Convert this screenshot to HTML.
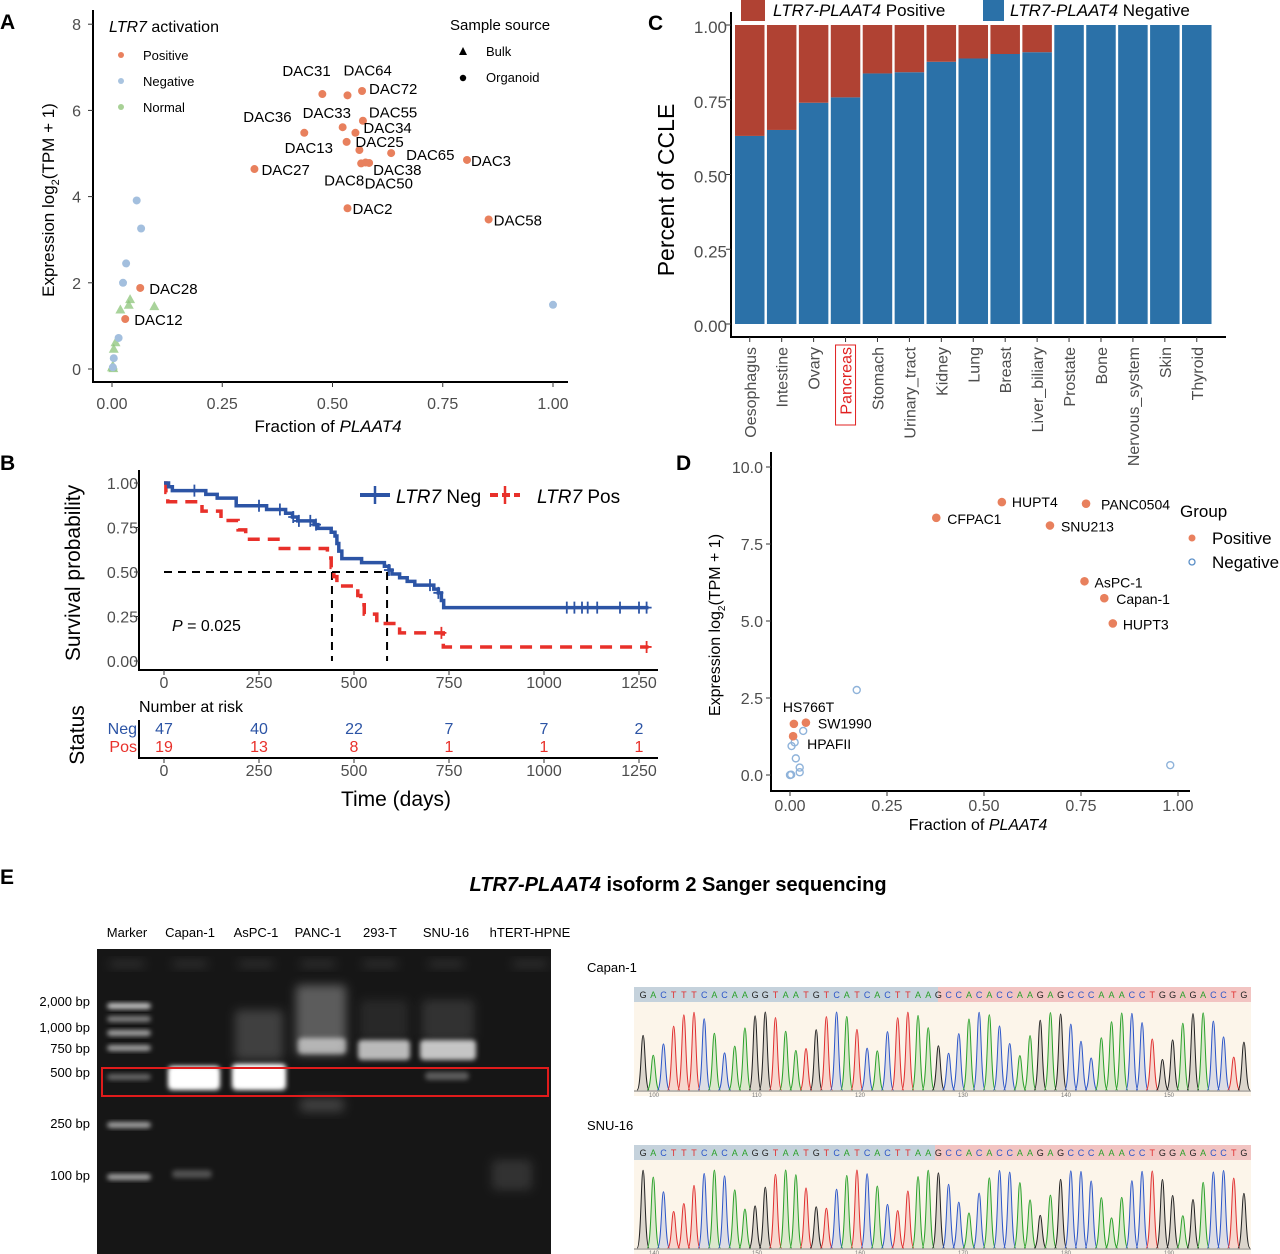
<!DOCTYPE html>
<html><head><meta charset="utf-8"><style>
html,body{margin:0;padding:0;background:#fff}
svg{display:block;font-family:"Liberation Sans",Arial,sans-serif}
.tk{fill:#4d4d4d;font-size:16px}
</style></head><body>
<svg id="fig" width="1280" height="1254" viewBox="0 0 1280 1254" xmlns="http://www.w3.org/2000/svg">
<defs>
<filter id="blur2" x="-50%" y="-50%" width="200%" height="200%"><feGaussianBlur stdDeviation="2.5"/></filter>
<filter id="blur4" x="-50%" y="-50%" width="200%" height="200%"><feGaussianBlur stdDeviation="5"/></filter>
</defs>
<text x="0" y="29" font-size="21" font-weight="bold">A</text>
<text x="0" y="470" font-size="21" font-weight="bold">B</text>
<text x="648" y="30" font-size="21" font-weight="bold">C</text>
<text x="676" y="470" font-size="21" font-weight="bold">D</text>
<text x="0" y="884" font-size="21" font-weight="bold">E</text>

<g id="pa">
<line x1="93" y1="10" x2="93" y2="383" stroke="#000" stroke-width="2"/>
<line x1="92" y1="382" x2="568" y2="382" stroke="#000" stroke-width="2"/>
<text transform="translate(54,200) rotate(-90)" text-anchor="middle" font-size="17">Expression log<tspan font-size="11" dy="5">2</tspan><tspan dy="-5">(TPM + 1)</tspan></text>
<text x="328" y="432" text-anchor="middle" font-size="17">Fraction of <tspan font-style="italic">PLAAT4</tspan></text>
<text x="109" y="32" font-size="16"><tspan font-style="italic">LTR7</tspan> activation</text>
<circle cx="121" cy="55" r="3" fill="#e9805e"/>
<text x="143" y="60" font-size="13">Positive</text>
<circle cx="121" cy="81" r="3" fill="#a9c4e0"/>
<text x="143" y="86" font-size="13">Negative</text>
<circle cx="121" cy="107" r="3" fill="#a8d196"/>
<text x="143" y="112" font-size="13">Normal</text>
<text x="450" y="30" font-size="15">Sample source</text>
<polygon points="463,47 467,55 459,55" fill="#000"/>
<text x="486" y="56" font-size="13">Bulk</text>
<circle cx="463" cy="78" r="3.2" fill="#000"/>
<text x="486" y="82" font-size="13">Organoid</text>
</g>

<g id="pb">
<line x1="139" y1="470" x2="139" y2="671" stroke="#000" stroke-width="2"/>
<line x1="138" y1="670" x2="658" y2="670" stroke="#000" stroke-width="2"/>
<text transform="translate(80,573) rotate(-90)" text-anchor="middle" font-size="21">Survival probability</text>
<text x="172" y="631" font-size="16"><tspan font-style="italic">P</tspan> = 0.025</text>
<text x="139" y="712" font-size="16">Number at risk</text>
<text x="137" y="734" text-anchor="end" font-size="16" fill="#2c54a5">Neg</text>
<text x="137" y="752" text-anchor="end" font-size="16" fill="#e8302a">Pos</text>
<line x1="139" y1="720" x2="139" y2="759" stroke="#000" stroke-width="2"/>
<line x1="138" y1="758" x2="658" y2="758" stroke="#000" stroke-width="2"/>
<text transform="translate(84,735) rotate(-90)" text-anchor="middle" font-size="21">Status</text>
<text x="396" y="806" text-anchor="middle" font-size="21">Time (days)</text>
<line x1="360" y1="495" x2="390" y2="495" stroke="#2c54a5" stroke-width="4"/>
<line x1="375" y1="486" x2="375" y2="504" stroke="#2c54a5" stroke-width="2.5"/>
<text x="396" y="503" font-size="19"><tspan font-style="italic">LTR7</tspan> Neg</text>
<line x1="490" y1="495" x2="520" y2="495" stroke="#e8302a" stroke-width="4" stroke-dasharray="8,4"/>
<line x1="505" y1="486" x2="505" y2="504" stroke="#e8302a" stroke-width="2.5"/>
<text x="537" y="503" font-size="19"><tspan font-style="italic">LTR7</tspan> Pos</text>
</g>

<g id="pc">
<rect x="741" y="0" width="24" height="21" fill="#b04233"/>
<text x="773" y="16" font-size="17"><tspan font-style="italic">LTR7-PLAAT4</tspan> Positive</text>
<rect x="983" y="0" width="21" height="21" fill="#2b71a8"/>
<text x="1010" y="16" font-size="17"><tspan font-style="italic">LTR7-PLAAT4</tspan> Negative</text>
<text transform="translate(674,190) rotate(-90)" text-anchor="middle" font-size="23">Percent of CCLE</text>
<line x1="731" y1="12" x2="731" y2="338" stroke="#000" stroke-width="2"/>
<line x1="730" y1="337" x2="1226" y2="337" stroke="#000" stroke-width="2"/>
</g>

<g id="pd">
<line x1="771" y1="452" x2="771" y2="792" stroke="#000" stroke-width="2"/>
<line x1="770" y1="791" x2="1190" y2="791" stroke="#000" stroke-width="2"/>
<text transform="translate(720,625) rotate(-90)" text-anchor="middle" font-size="16">Expression log<tspan font-size="10" dy="5">2</tspan><tspan dy="-5">(TPM + 1)</tspan></text>
<text x="978" y="830" text-anchor="middle" font-size="16">Fraction of <tspan font-style="italic">PLAAT4</tspan></text>
<text x="1180" y="517" font-size="17">Group</text>
<circle cx="1192" cy="538" r="3.5" fill="#e9805e"/>
<text x="1212" y="544" font-size="17">Positive</text>
<circle cx="1192" cy="562" r="3" fill="none" stroke="#5b8fc7" stroke-width="1.3"/>
<text x="1212" y="568" font-size="17">Negative</text>
</g>

<g id="pe">
<text x="678" y="891" text-anchor="middle" font-size="20" font-weight="bold"><tspan font-style="italic">LTR7-PLAAT4</tspan> isoform 2 Sanger sequencing</text>
<rect x="97" y="949" width="454" height="305" fill="#161616"/>
<text x="587" y="972" font-size="13">Capan-1</text>
<text x="587" y="1130" font-size="13">SNU-16</text>
</g>
</svg>
<script>
// ---------- DATA ----------
const aPosNames=["DAC31","DAC64","DAC72","DAC55","DAC33","DAC36","DAC34","DAC13","DAC25","DAC65","DAC3","DAC38","DAC8","DAC50","DAC27","DAC2","DAC58","DAC28","DAC12"];
const aPosFrac=[0.477,0.534,0.567,0.569,0.523,0.436,0.552,0.532,0.561,0.633,0.805,0.583,0.565,0.575,0.323,0.534,0.854,0.064,0.030];
const aPosExpr=[6.38,6.35,6.45,5.76,5.61,5.48,5.48,5.27,5.08,5.01,4.85,4.78,4.77,4.79,4.64,3.73,3.47,1.88,1.16];
const aNegFrac=[0.056,0.066,0.032,0.025,0.015,0.004,1.0,0.002];
const aNegExpr=[3.91,3.26,2.45,2.0,0.72,0.25,1.49,0.04];
const aNormFrac=[0.041,0.038,0.019,0.096,0.008,0.004,0.0,0.002,0.003];
const aNormExpr=[1.62,1.49,1.38,1.46,0.62,0.47,0.04,0.08,0.02];
const aXTicks=["0.00","0.25","0.50","0.75","1.00"];
const aYTicks=["0","2","4","6","8"];
const negT=[12,22,110,140,190,270,320,338,352,395,405,440,450,455,460,468,520,580,592,600,620,640,660,710,722,730,736];
const negS=[0.979,0.957,0.936,0.915,0.872,0.851,0.830,0.809,0.787,0.766,0.745,0.723,0.702,0.660,0.617,0.575,0.553,0.532,0.511,0.489,0.468,0.447,0.426,0.404,0.383,0.34,0.30];
const negCens=[80,250,305,340,355,385,400,592,700,722,1060,1080,1100,1115,1140,1200,1250,1270];
const posT=[5,10,100,150,195,215,300,430,440,447,455,510,518,527,560,620,735];
const posS=[0.947,0.895,0.842,0.789,0.737,0.684,0.632,0.579,0.526,0.474,0.421,0.368,0.316,0.263,0.211,0.158,0.079];
const posCens=[730,1270];
const bXTicks=[0,250,500,750,1000,1250];
const bYTicks=["0.00","0.25","0.50","0.75","1.00"];
const medians=[442,587];
const riskTimes=[0,250,500,750,1000,1250];
const negRisk=[47,40,22,7,7,2];
const posRisk=[19,13,8,1,1,1];
const cCats=["Oesophagus","Intestine","Ovary","Pancreas","Stomach","Urinary_tract","Kidney","Lung","Breast","Liver_biliary","Prostate","Bone","Nervous_system","Skin","Thyroid"];
const cNeg=[0.629,0.649,0.740,0.758,0.838,0.842,0.877,0.888,0.903,0.909,1,1,1,1,1];
const cYTicks=["0.00","0.25","0.50","0.75","1.00"];
const dPosNames=["HUPT4","PANC0504","CFPAC1","SNU213","AsPC-1","Capan-1","HUPT3","HS766T","SW1990","HPAFII"];
const dPosFrac=[0.546,0.763,0.377,0.670,0.759,0.810,0.832,0.010,0.041,0.008];
const dPosExpr=[8.86,8.81,8.35,8.10,6.29,5.74,4.92,1.66,1.70,1.26];
const dNegFrac=[0.172,0.034,0.012,0.004,0.015,0.025,0.025,0.0,0.003,0.98];
const dNegExpr=[2.76,1.43,1.06,0.94,0.54,0.24,0.09,0.0,0.01,0.32];
const dXTicks=["0.00","0.25","0.50","0.75","1.00"];
const dYTicks=["0.0","2.5","5.0","7.5","10.0"];
const lanes=["Marker","Capan-1","AsPC-1","PANC-1","293-T","SNU-16","hTERT-HPNE"];
const ladder=["2,000 bp","1,000 bp","750 bp","500 bp","250 bp","100 bp"];

const NS="http://www.w3.org/2000/svg";
const svg=document.getElementById('fig');
function mk(tag,attrs,parent){const e=document.createElementNS(NS,tag);for(const k in attrs)e.setAttribute(k,attrs[k]);(parent||svg).appendChild(e);return e;}
function txt(str,attrs,parent){const e=mk('text',attrs,parent);e.textContent=str;return e;}

// ---------- PANEL A ----------
const pa=document.getElementById('pa');
const ax=f=>112+f*441, ay=v=>369-v*43.1;
aXTicks.forEach(t=>{const x=ax(+t);
 const tk=mk('line',{x1:x,y1:382,x2:x,y2:387,stroke:'#333'},pa);
 
 
 const l=txt(t,{x:x,y:409,'text-anchor':'middle',class:'tk'},pa);
 
 });
aYTicks.forEach(t=>{const y=ay(+t);
 const tk=mk('line',{x1:88,y1:y,x2:93,y2:y,stroke:'#333'},pa);
 
 
 const l=txt(t,{x:81,y:y+6,'text-anchor':'end',class:'tk'},pa);
 
 });
aNormFrac.forEach((f,i)=>{const x=ax(f),y=ay(aNormExpr[i]);
 const p=mk('polygon',{points:`${x},${y-5} ${x+5},${y+4} ${x-5},${y+4}`,fill:'#8cc47a','fill-opacity':0.75},pa);
 
 });
aNegFrac.forEach((f,i)=>{
 const c=mk('circle',{cx:ax(f),cy:ay(aNegExpr[i]),r:4,fill:'#a3bfde'},pa);
 
 });
aPosFrac.forEach((f,i)=>{
 const c=mk('circle',{cx:ax(f),cy:ay(aPosExpr[i]),r:4,fill:'#e8805d'},pa);
 
 });
const aLabelOff={DAC31:[-40,-18],DAC64:[-4,-20],DAC72:[7,3],DAC36:[-61,-11],DAC33:[-40,-9],DAC55:[6,-3],DAC34:[8,0],DAC13:[-62,11],DAC25:[-4,-3],DAC65:[15,7],DAC3:[4,6],DAC27:[7,6],DAC38:[4,12],DAC8:[-37,22],DAC50:[-1,26],DAC2:[5,6],DAC58:[5,6],DAC28:[9,6],DAC12:[9,6]};
aPosNames.forEach((n,i)=>{const o=aLabelOff[n];
 const l=txt(n,{x:ax(aPosFrac[i])+o[0],y:ay(aPosExpr[i])+o[1],'font-size':15},pa);
 
 });

// ---------- PANEL B ----------
const pb=document.getElementById('pb');
const bx=t=>164+t*0.380, by=s=>661-s*178;
bXTicks.forEach(t=>{const x=bx(t);
 [[670,688],[758,776]].forEach(([ly,ty])=>{
  const tk=mk('line',{x1:x,y1:ly,x2:x,y2:ly+5,stroke:'#333'},pb);
  
  
  const l=txt(String(t),{x:x,y:ty,'text-anchor':'middle',class:'tk'},pb);
  
  });});
bYTicks.forEach(t=>{const y=by(+t);
 const tk=mk('line',{x1:134,y1:y,x2:139,y2:y,stroke:'#333'},pb);
 
 
 const l=txt(t,{x:138,y:y+6,'text-anchor':'end',class:'tk'},pb);
 
 });
const mh=mk('line',{x1:bx(0),y1:by(0.5),x2:bx(medians[1]),y2:by(0.5),stroke:'#000','stroke-width':2,'stroke-dasharray':'8,6'},pb);


medians.forEach(m=>{const v=mk('line',{x1:bx(m),y1:by(0.5),x2:bx(m),y2:by(0),stroke:'#000','stroke-width':2,'stroke-dasharray':'8,6'},pb);
 
 });
function stepPath(T,S,end){let d=`M${bx(0)},${by(1)}`;T.forEach((t,i)=>{d+=` H${bx(t)} V${by(S[i])}`;});d+=` H${bx(end)}`;return d;}
function survAt(T,S,t){let s=1;T.forEach((ti,i)=>{if(ti<=t)s=S[i];});return s;}
const posPath=mk('path',{d:stepPath(posT,posS,1275),fill:'none',stroke:'#e8302a','stroke-width':3.5,'stroke-dasharray':'12,8'},pb);


const negPath=mk('path',{d:stepPath(negT,negS,1275),fill:'none',stroke:'#2c54a5','stroke-width':3.5},pb);


negCens.forEach(t=>{const x=bx(t),y=by(survAt(negT,negS,t));
 const c=mk('path',{d:`M${x-5},${y}H${x+5}M${x},${y-6}V${y+6}`,stroke:'#2c54a5','stroke-width':1.8},pb);
 
 });
posCens.forEach(t=>{const x=bx(t),y=by(survAt(posT,posS,t));
 const c=mk('path',{d:`M${x-5},${y}H${x+5}M${x},${y-6}V${y+6}`,stroke:'#e8302a','stroke-width':1.8},pb);
 
 });
riskTimes.forEach((t,i)=>{
 const a=txt(String(negRisk[i]),{x:bx(t),y:734,'text-anchor':'middle','font-size':16,fill:'#2c54a5'},pb);
 
 
 const b=txt(String(posRisk[i]),{x:bx(t),y:752,'text-anchor':'middle','font-size':16,fill:'#e8302a'},pb);
 
 });

// ---------- PANEL C ----------
const pc=document.getElementById('pc');
const cyS=v=>324-v*299, pitch=31.93, bw=29.5;
cYTicks.forEach(t=>{const y=cyS(+t);
 const tk=mk('line',{x1:726,y1:y,x2:731,y2:y,stroke:'#333'},pc);
 
 
 const l=txt(t,{x:727,y:y+8,'text-anchor':'end','font-size':17,fill:'#4d4d4d'},pc);
 
 });
cCats.forEach((c,i)=>{const x=735+i*pitch, cx=x+bw/2;
 const nb=mk('rect',{x:x,y:cyS(cNeg[i]),width:bw,height:cyS(0)-cyS(cNeg[i]),fill:'#2b71a8'},pc);
 
 
 if(cNeg[i]<1){const pbr=mk('rect',{x:x,y:cyS(1),width:bw,height:cyS(cNeg[i])-cyS(1),fill:'#b04233'},pc);
  
  }
 const tk=mk('line',{x1:cx,y1:337,x2:cx,y2:342,stroke:'#333'},pc);
 
 
 const isP=c==="Pancreas";
 const l=txt(c,{x:cx+6,y:347,'text-anchor':'end','font-size':16,fill:isP?'#e02020':'#4d4d4d',transform:`rotate(-90 ${cx+6} 347)`},pc);
 
 
 if(isP){const r=mk('rect',{x:cx-10,y:345,width:20,height:80,fill:'none',stroke:'#e02020','stroke-width':1},pc);
  
  }
});

// ---------- PANEL D ----------
const pd=document.getElementById('pd');
const dxS=f=>790+f*388, dyS=v=>775-v*30.8;
dXTicks.forEach(t=>{const x=dxS(+t);
 const tk=mk('line',{x1:x,y1:791,x2:x,y2:796,stroke:'#333'},pd);
 
 
 const l=txt(t,{x:x,y:811,'text-anchor':'middle',class:'tk'},pd);
 
 });
dYTicks.forEach(t=>{const y=dyS(+t);
 const tk=mk('line',{x1:766,y1:y,x2:771,y2:y,stroke:'#333'},pd);
 
 
 const l=txt(t,{x:763,y:y+6,'text-anchor':'end',class:'tk'},pd);
 
 });
dNegFrac.forEach((f,i)=>{
 const c=mk('circle',{cx:dxS(f),cy:dyS(dNegExpr[i]),r:3.5,fill:'none',stroke:'#8fb3da','stroke-width':1.4},pd);
 
 });
dPosFrac.forEach((f,i)=>{
 const c=mk('circle',{cx:dxS(f),cy:dyS(dPosExpr[i]),r:4.3,fill:'#e8805d'},pd);
 
 });
const dLabelOff={"HUPT4":[10,5],"PANC0504":[15,6],"CFPAC1":[11,6],"SNU213":[11,6],"AsPC-1":[10,6],"Capan-1":[12,6],"HUPT3":[10,6],"HS766T":[-11,-12],"SW1990":[12,6],"HPAFII":[14,13]};
dPosNames.forEach((n,i)=>{const o=dLabelOff[n];
 const l=txt(n,{x:dxS(dPosFrac[i])+o[0],y:dyS(dPosExpr[i])+o[1],'font-size':14},pd);
 
 });

// ---------- PANEL E ----------
const pe=document.getElementById('pe');
const laneX=[127,190,256,318,380,446,530];
lanes.forEach((n,i)=>{const l=txt(n,{x:laneX[i],y:937,'text-anchor':'middle','font-size':13},pe);
 
 });
const ladY=[1007,1033,1054,1078,1129,1181];
ladder.forEach((n,i)=>{const l=txt(n,{x:90,y:ladY[i]-1,'text-anchor':'end','font-size':13},pe);
 
 });
function gband(x,y,w,h,op,f){const r=mk('rect',{x:x,y:y,width:w,height:h,fill:'#fff','fill-opacity':op,filter:`url(#${f||'blur2'})`,rx:4},pe);
 
 return r;}
[[1003,0.75],[1016,0.45],[1030,0.6],[1045,0.6],[1074,0.35],[1122,0.6],[1174,0.6]].forEach(([y,o])=>gband(107,y,44,6,o));
gband(168,1066,52,24,1);gband(172,1070,44,16,1);
gband(232,1064,54,26,1);gband(236,1068,46,18,1);
gband(235,1010,48,50,0.18,'blur4');
gband(296,985,50,70,0.3,'blur4');gband(298,1038,48,16,0.55);gband(300,1098,44,14,0.18,'blur4');
gband(358,1040,52,20,0.7);gband(360,1000,48,40,0.08,'blur4');
gband(420,1040,56,20,0.75);gband(422,1000,52,40,0.12,'blur4');gband(425,1072,44,8,0.3);
gband(172,1170,40,8,0.25);gband(492,1160,40,30,0.12,'blur4');
laneX.forEach(x=>gband(x-18,960,36,8,0.1,'blur4'));
const gb=mk('rect',{x:102,y:1068,width:446,height:28,fill:'none',stroke:'#e01b1b','stroke-width':2},pe);



const seq="GACTTTCACAAGGTAATGTCATCACTTAAGCCACACCAAGAGCCCAAACCTGGAGACCTG";
const baseCol={A:'#2aa12a',C:'#2c56c8',G:'#222',T:'#e03030'};
function chrom(y0,split,tickNums){
 const x0=634,w=617;
 const h1=mk('rect',{x:x0,y:y0,width:split-x0,height:15,fill:'#c5d2dc'},pe);
 
 
 const h2=mk('rect',{x:split,y:y0,width:x0+w-split,height:15,fill:'#f2c4c2'},pe);
 
 
 const bg=mk('rect',{x:x0,y:y0+15,width:w,height:94,fill:'#fcf5ea'},pe);
 
 
 const st=(w-6)/seq.length;
 for(let i=0;i<seq.length;i++){const t=txt(seq[i],{x:x0+4+i*st+st/2,y:y0+11,'text-anchor':'middle','font-size':9,fill:baseCol[seq[i]]},pe);
  
  }
 const base=y0+103;
 for(let i=0;i<seq.length;i++){const cx=x0+4+i*st+st/2;const hh=30+Math.abs(Math.sin(i*2.7+y0))*48;
  const p=mk('path',{d:`M${cx-6},${base} C${cx-2},${base} ${cx-2},${base-hh} ${cx},${base-hh} C${cx+2},${base-hh} ${cx+2},${base} ${cx+6},${base}`,fill:baseCol[seq[i]],'fill-opacity':0.15,stroke:baseCol[seq[i]],'stroke-width':1},pe);
  
  }
 const bl=mk('line',{x1:x0,y1:base+1,x2:x0+w,y2:base+1,stroke:'#777','stroke-width':1},pe);
 
 
 tickNums.forEach((n,i)=>{const t=txt(String(n),{x:x0+15+i*103,y:base+7,'font-size':6,fill:'#777'},pe);
  
  });
}
chrom(987,938,[100,110,120,130,140,150]);
chrom(1145,935,[140,150,160,170,180,190]);
</script>
</body></html>
